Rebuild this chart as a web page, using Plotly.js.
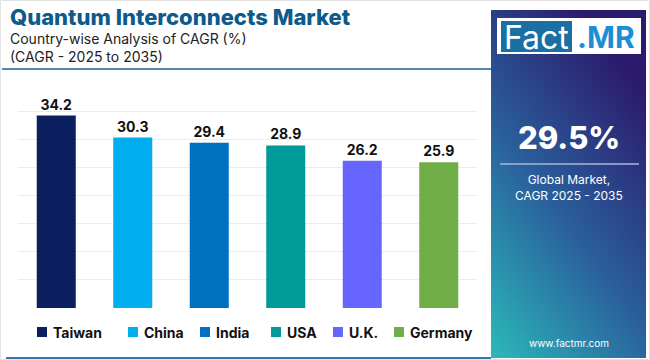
<!DOCTYPE html>
<html><head><meta charset="utf-8">
<script src="https://cdn.plot.ly/plotly-3.0.1.min.js"></script>
<style>html,body{margin:0;padding:0;background:#fff}#chart{width:650px;height:360px}</style>
</head><body><div id="chart"></div>
<script>
const countries = ["Taiwan", "China", "India", "USA", "U.K.", "Germany"];
const cagr = [34.2, 30.3, 29.4, 28.9, 26.2, 25.9];
const barColors = ["#0b1f5e", "#00aeef", "#0070c0", "#009a98", "#6666ff", "#70ad47"];
const globalCagr = "29.5%";

// layout helpers (pixel -> paper coords)
const L = 18, T = 83, PW = 459, PH = 225;
const px = x => (x - L) / PW;
const py = y => (T + PH - y) / PH;

const traces = [{
  type: "bar",
  x: countries,
  y: cagr,
  marker: {color: barColors},
  text: cagr.map(v => v.toFixed(1)),
  textposition: "outside",
  textfont: {family: "Inter, sans-serif", size: 14, color: "#111", weight: 700},
  cliponaxis: false,
  hoverinfo: "skip",
  showlegend: false
}];

const grad = 'data:image/svg+xml;utf8,' + encodeURIComponent(
  '<svg xmlns="http://www.w3.org/2000/svg" width="155" height="348" preserveAspectRatio="none">' +
  '<defs><linearGradient id="g" x1="0" y1="1" x2="0.6" y2="0">' +
  '<stop offset="0" stop-color="#2bb9b9"/><stop offset="0.5" stop-color="#2a5f9c"/>' +
  '<stop offset="1" stop-color="#2c1a6c"/></linearGradient></defs>' +
  '<rect width="155" height="348" fill="url(#g)"/></svg>');

// legend positions (layout only)
const legendX = [37, 128, 200, 271, 333, 394];
const legendY = 332;

const shapes = [
  {type: "rect", xref: "paper", yref: "paper", x0: px(0.5), x1: px(649.5), y0: py(359.5), y1: py(0.5),
    line: {color: "#e2e2e2", width: 1}, fillcolor: "rgba(0,0,0,0)"},
  {type: "line", xref: "paper", yref: "paper", x0: px(2), x1: px(491), y0: py(69), y1: py(69),
    line: {color: "#1f5f8f", width: 1.5}},
  {type: "line", xref: "paper", yref: "paper", x0: px(6), x1: px(491), y0: py(358), y1: py(358),
    line: {color: "#3a78a8", width: 2}},
  {type: "rect", xref: "paper", yref: "paper", x0: px(497), x1: px(641), y0: py(54), y1: py(18),
    fillcolor: "#fff", line: {width: 0}},
  {type: "rect", xref: "paper", yref: "paper", x0: px(501), x1: px(572), y0: py(52), y1: py(21),
    fillcolor: "#1a6fa3", line: {width: 0}},
  {type: "line", xref: "paper", yref: "paper", x0: px(500), x1: px(639), y0: py(164), y1: py(164),
    line: {color: "#a9b8d8", width: 1.5}}
];
const annotations = [
  {text: "Quantum Interconnects Market", x: px(8), y: py(17), xanchor: "left",
    font: {family: "Inter, sans-serif", size: 22, color: "#0e5a8a", weight: 800}},
  {text: "Country-wise Analysis of CAGR (%)", x: px(8), y: py(38), xanchor: "left",
    font: {family: "Inter, sans-serif", size: 14, color: "#222"}},
  {text: "(CAGR - 2025 to 2035)", x: px(8), y: py(57), xanchor: "left",
    font: {family: "Inter, sans-serif", size: 14, color: "#222"}},
  {text: "Fact", x: px(536), y: py(37), xanchor: "center",
    font: {family: "Inter, sans-serif", size: 32, color: "#fff"}},
  {text: ".MR", x: px(606), y: py(37), xanchor: "center",
    font: {family: "Inter, sans-serif", size: 30, color: "#1b8fd2", weight: 700}},
  {text: globalCagr, x: px(569), y: py(137), xanchor: "center",
    font: {family: "Inter, sans-serif", size: 31, color: "#fff", weight: 800}},
  {text: "Global Market,<br>CAGR 2025 - 2035", x: px(569), y: py(187), xanchor: "center",
    font: {family: "Inter, sans-serif", size: 12, color: "#fff"}},
  {text: "www.factmr.com", x: px(569), y: py(343), xanchor: "center",
    font: {family: "Inter, sans-serif", size: 10, color: "#fff"}}
];
countries.forEach((c, i) => {
  shapes.push({type: "rect", xref: "paper", yref: "paper",
    x0: px(legendX[i]), x1: px(legendX[i] + 10), y0: py(legendY + 5), y1: py(legendY - 5),
    fillcolor: barColors[i], line: {width: 0}});
  annotations.push({text: c, x: px(legendX[i] + 14), y: py(legendY), xanchor: "left",
    font: {family: "Inter, sans-serif", size: 14, color: "#111", weight: 700}});
});
annotations.forEach(a => { a.xref = "paper"; a.yref = "paper"; a.yanchor = "middle"; a.showarrow = false; });

const layout = {
  width: 650, height: 360,
  margin: {l: L, r: 650 - L - PW, t: T, b: 360 - T - PH},
  paper_bgcolor: "#fff", plot_bgcolor: "#fff",
  bargap: 0.49,
  showlegend: false,
  xaxis: {showticklabels: false, showgrid: false, zeroline: false, fixedrange: true},
  yaxis: {range: [0, 40], dtick: 5, showticklabels: false, gridcolor: "#ececec", gridwidth: 1,
    zeroline: false, fixedrange: true},
  images: [{source: grad, xref: "paper", yref: "paper", x: px(491), y: py(10),
    sizex: 155 / PW, sizey: 348 / PH, xanchor: "left", yanchor: "top", sizing: "stretch", layer: "below"}],
  shapes: shapes,
  annotations: annotations
};
Plotly.newPlot("chart", traces, layout, {displayModeBar: false, staticPlot: true});
</script></body></html>
